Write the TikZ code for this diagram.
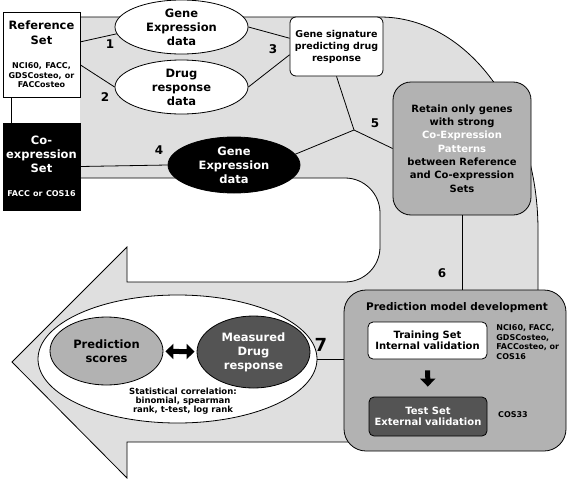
\documentclass[tikz,border=0pt]{standalone}
\usepackage{fontspec}
\setmainfont{DejaVu Sans}
\usetikzlibrary{shapes.geometric,arrows.meta}

\newcommand{\fsz}[2]{\fontsize{#1}{#2}\selectfont}

\begin{document}
\begin{tikzpicture}[x=1pt,y=-1pt,line width=0.8pt,
  every node/.style={font=\bfseries,align=center,inner sep=0pt},
  setbox/.style={draw,minimum width=77pt,text width=74pt},
  oval/.style={draw,ellipse,inner sep=-4pt,fill=white,minimum width=133pt,minimum height=54pt,font=\bfseries\fsz{11.5}{14}},
  rbox/.style={draw,rounded corners=#1},
  num/.style={font=\bfseries\fsz{12}{14}},
  small/.style={font=\bfseries\fsz{8}{9.5}},
  fat/.style={line width=5pt,-{Triangle[width=15pt,length=8pt]}},
]
\useasboundingbox (0,0) rectangle (567,479);

% the grey band
\path[fill=gray!25,draw] (80,178) -- (345,178) .. controls (364.3,178) and (380,193.7) .. (380,213)
  -- (380,247) .. controls (380,266.3) and (364.3,282) .. (345,282) -- (127,282) -- (127,247)
  -- (12,362) -- (127,478) -- (127,442) -- (538,442) -- (538,230)
  arc[start angle=0,end angle=-90,x radius=158,y radius=213] -- (80,17);

\node[setbox,fill=white,minimum height=85pt] (ref) at (41.5,54.5)
  {{\fsz{11.5}{15}Reference\\Set\par}\vskip14.5pt{\fsz{8}{9.5}NCI60, FACC,\\GDSCosteo, or\\FACCosteo\par}};
\node[setbox,fill=black,text=white,minimum height=87pt] (coexp) at (41.5,166.5)
  {{\fsz{11.5}{14}Co-\\expression\\Set\par}\vskip14.5pt{\fsz{8}{9.5}FACC or COS16\par}};

\node[oval] (ge1) at (181.5,27) {Gene\\Expression\\data};
\node[oval] (drug) at (181.5,87) {Drug\\response\\data};
\node[oval,fill=black,text=white,minimum width=132pt,minimum height=56pt] (ge2) at (234,165) {Gene\\Expression\\data};

\node[rbox=6pt,fill=white,minimum width=93pt,minimum height=59pt,font=\bfseries\fsz{9.5}{12}] (sig) at (336.5,46.5)
  {Gene signature\\predicting drug\\response};
\node[rbox=18pt,fill=gray!60,minimum width=138pt,minimum height=133pt,font=\bfseries\fsz{10}{13.3}] (retain) at (462,148.5)
  {Retain only genes\\with strong\\\textcolor{white}{Co-Expression}\\\textcolor{white}{Patterns}\\between Reference\\and Co-expression\\Sets};

\node[rbox=22pt,fill=gray!60,minimum width=222pt,minimum height=161pt] (pred) at (455,370.5) {};
\node[font=\bfseries\fsz{10.5}{12}] (predtitle) at (457,308) {Prediction model development};
\node[rbox=5pt,fill=white,minimum width=119pt,minimum height=37pt,font=\bfseries\fsz{10}{11.5}] (train) at (427.5,340.5)
  {Training Set\\Internal validation};
\node[rbox=5pt,fill=black!67,text=white,minimum width=118pt,minimum height=39pt,font=\bfseries\fsz{10}{11.5}] (test) at (428,416.5)
  {Test Set\\External validation};
\node[small,anchor=west,align=left] (trainsets) at (496,342) {NCI60, FACC,\\GDSCosteo,\\FACCosteo, or\\COS16};
\node[small] (testsets) at (513,415) {COS33};
\draw[fat,shorten <=11pt,shorten >=10pt] (train) -- (test);

\node[draw,ellipse,fill=white,minimum width=279pt,minimum height=128pt] (corr) at (177.5,359) {};
\node[oval,fill=gray!60,minimum width=113pt,minimum height=68pt] (scores) at (106.5,351) {Prediction\\scores};
\node[oval,fill=black!67,text=white,minimum width=113pt,minimum height=72pt] (measured) at (253.5,352) {Measured\\Drug\\response};
\draw[line width=5pt,{Triangle[width=15pt,length=8pt]}-{Triangle[width=15pt,length=8pt]},shorten <=2pt,shorten >=2pt] (scores) -- (measured);
\node[font=\bfseries\fsz{8.5}{9.2}] (stats) at (183,401) {Statistical correlation:\\binomial, spearman\\rank, t-test, log rank};

\coordinate (hub) at (354,130);
\draw (ref.18) -- (ge1.186);
\draw (ref.-15) -- (drug.west);
\draw (ge1.east) -- (sig.170);
\draw (drug.east) -- (sig.-170);
\draw ([xshift=9pt]ref.south west) -- ([xshift=9pt]coexp.north west);
\draw (coexp.east) -- (ge2.west);
\draw (sig.south) -- (hub) -- (retain.west);
\draw (ge2.10) -- (hub);
\draw (retain.south) -- (retain.south |- pred.north);
\draw (corr.east) -- (corr.east -| pred.west);

\node[num] (n1) at (110,44) {1};
\node[num] (n2) at (105,97) {2};
\node[num] (n3) at (273,49) {3};
\node[num] (n4) at (159,150) {4};
\node[num] (n5) at (375,123) {5};
\node[num] (n6) at (442,273) {6};
\node[font=\bfseries\fsz{18}{20}] (n7) at (321,345) {7};
\end{tikzpicture}
\end{document}
